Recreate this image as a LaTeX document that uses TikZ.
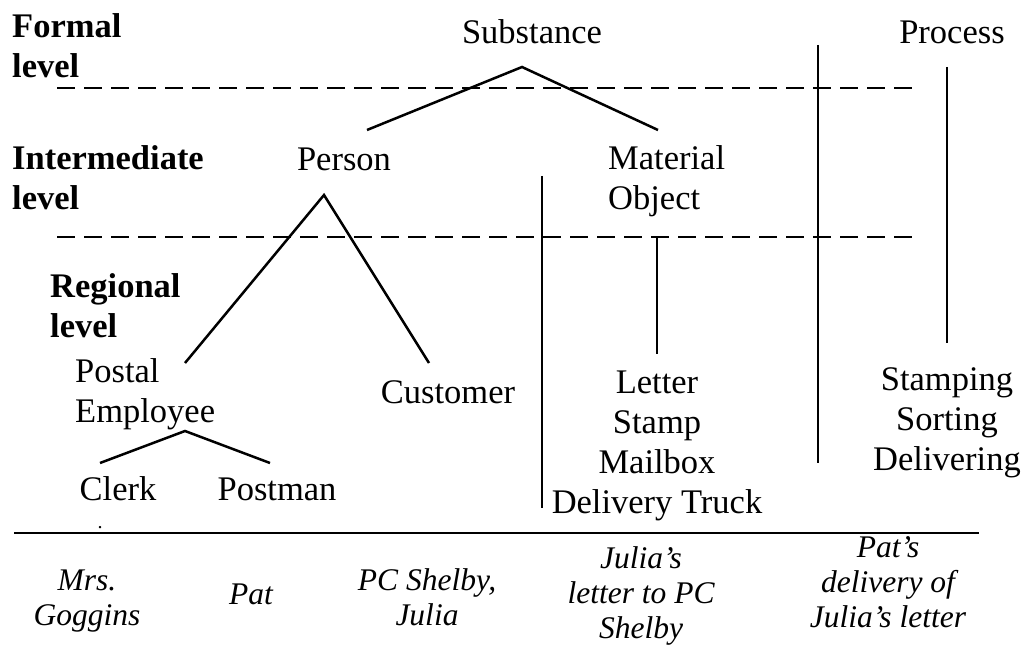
\documentclass[tikz,border=0pt]{standalone}
\usepackage{fontspec}
\setmainfont{Liberation Serif}
\usetikzlibrary{positioning}
\tikzset{mylevel/.style = {inner sep=0pt, anchor=base west, align=left,
    font=\bfseries\fontsize{34.5}{40}\selectfont},
  myclass/.style = {inner sep=0pt, anchor=base, align=center,
    font=\fontsize{34.5}{40}\selectfont},
  myinst/.style = {inner sep=0pt, anchor=base, align=center,
    font=\itshape\fontsize{31.5}{35}\selectfont},
  mydashed/.style = {line width=2.5pt, dash pattern=on 18pt off 9pt},
  mytree/.style = {line width=2.5pt}}

\begin{document}
\begin{tikzpicture}[x=1pt,y=-1pt]
\useasboundingbox (0,0) rectangle (1033,647);
% levels (anchored at the last line)
\node[mylevel] (formal) at (12,78) {Formal\\level};
\node[mylevel] (inter) at (12,210) {Intermediate\\level};
\node[mylevel] (regional) at (50,337) {Regional\\level};
\draw[mydashed] (57,88) coordinate (d1a) -- (920,88) coordinate (d1b);
\draw[mydashed] (57,237) coordinate (d2a) -- (920,237) coordinate (d2b);
% categories
\node[myclass] (subst) at (532,44) {Substance};
\node[myclass] (process) at (952,44) {Process};
\node[myclass] (person) at (344,171) {Person};
\node[myclass, anchor=base west, align=left] (matobj) at (608,210) {Material\\Object};
\node[myclass, anchor=base west, align=left] (postal) at (75,422) {Postal\\Employee};
\node[myclass] (customer) at (448,403) {Customer};
\node[myclass] (clerk) at (118,500) {Clerk};
\node[myclass] (postman) at (277,500) {Postman};
\node[myclass, font=\fontsize{20}{24}\selectfont] (dot) at (100,528) {.};
\node[myclass] (things) at (657,513) {Letter\\Stamp\\Mailbox\\Delivery Truck};
\node[myclass] (acts) at (947,470) {Stamping\\Sorting\\Delivering};
% tree lines
\coordinate (substTop) at (522,67);
\coordinate (personEnd) at (367,130);
\coordinate (matEnd) at (658,130);
\coordinate (personTop) at (324,195);
\coordinate (postalEnd) at (185,363);
\coordinate (custEnd) at (429,363);
\coordinate (postalTop) at (185,431);
\coordinate (clerkEnd) at (100,463);
\coordinate (postmanEnd) at (270,463);
\draw[mytree] (personEnd) -- (substTop) -- (matEnd);
\draw[mytree] (postalEnd) -- (personTop) -- (custEnd);
\draw[mytree] (clerkEnd) -- (postalTop) -- (postmanEnd);
\draw[mytree] (657,237) coordinate (matDown) -- (657,354) coordinate (thingsUp);
\draw[mytree] (947,67) coordinate (procDown) -- (947,343) coordinate (actsUp);
% column separators
\draw[mytree] (542,176) coordinate (sep1a) -- (542,508) coordinate (sep1b);
\draw[mytree] (818,45) coordinate (sep2a) -- (818,463) coordinate (sep2b);
\draw[mytree] (14,533) coordinate (rulea) -- (979,533) coordinate (ruleb);
% instances
\node[myinst] (goggins) at (87,625) {Mrs.\\Goggins};
\node[myinst] (pat) at (251,604) {Pat};
\node[myinst] (shelby) at (427,625) {PC Shelby,\\Julia};
\node[myinst] (jletter) at (641,638) {Julia’s\\letter to PC\\Shelby};
\node[myinst] (delivery) at (888,627) {Pat’s\\delivery of\\Julia’s letter};
\end{tikzpicture}
\end{document}
